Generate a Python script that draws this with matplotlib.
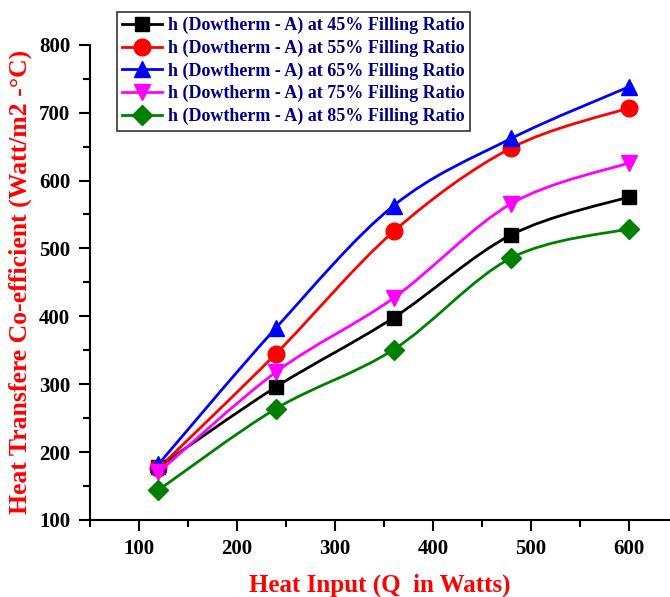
import matplotlib
matplotlib.use("Agg")
import matplotlib.pyplot as plt
from matplotlib.path import Path
from matplotlib.patches import PathPatch
from matplotlib.lines import Line2D
import numpy as np

heat_input = [120, 240, 360, 480, 600]

h_45 = [178, 296, 398, 520, 576]
h_55 = [176, 345, 525, 648, 707]
h_65 = [182, 383, 563, 662, 738]
h_75 = [170, 318, 427, 566, 626]
h_85 = [144, 264, 351, 486, 529]

labels = [
    "h (Dowtherm - A) at 45% Filling Ratio",
    "h (Dowtherm - A) at 55% Filling Ratio",
    "h (Dowtherm - A) at 65% Filling Ratio",
    "h (Dowtherm - A) at 75% Filling Ratio",
    "h (Dowtherm - A) at 85% Filling Ratio",
]
series = [h_45, h_55, h_65, h_75, h_85]
colors = ["black", "red", "blue", "magenta", "green"]
markers = ["s", "o", "^", "v", "D"]

plt.rcParams["font.family"] = ["Liberation Serif", "DejaVu Serif"]
plt.rcParams["font.weight"] = "bold"

fig = plt.figure(figsize=(6.7, 5.97), dpi=100)
ax = fig.add_axes([0.134, 0.129, 0.866, 0.796])


def smooth_path(xs, ys):
    # Catmull-Rom segments as cubic Bezier, in data coordinates
    pts = np.column_stack([xs, ys]).astype(float)
    verts = [pts[0]]
    codes = [Path.MOVETO]
    n = len(pts)
    for i in range(n - 1):
        p0 = pts[i - 1] if i > 0 else pts[i]
        p1 = pts[i]
        p2 = pts[i + 1]
        p3 = pts[i + 2] if i + 2 < n else pts[i + 1]
        c1 = p1 + (p2 - p0) / 6.0
        c2 = p2 - (p3 - p1) / 6.0
        verts += [c1, c2, p2]
        codes += [Path.CURVE4] * 3
    return Path(verts, codes)


handles = []
for ys, c, m, lab in zip(series, colors, markers, labels):
    patch = PathPatch(smooth_path(heat_input, ys), facecolor="none",
                      edgecolor=c, lw=2, zorder=2)
    ax.add_patch(patch)
    ms = 10 if m in ("s", "D") else 12
    ax.plot(heat_input, ys, linestyle="none", marker=m, color=c,
            markersize=ms, zorder=3)
    handles.append(Line2D([], [], color=c, lw=2, marker=m, markersize=ms, label=lab))

ax.set_xlim(50, 642)
ax.set_ylim(100, 800)
ax.set_xticks([100, 200, 300, 400, 500, 600])
ax.set_xticks([50, 150, 250, 350, 450, 550], minor=True)
ax.set_yticks([100, 200, 300, 400, 500, 600, 700, 800])
ax.set_yticks([150, 250, 350, 450, 550, 650, 750], minor=True)

ax.spines["top"].set_visible(False)
ax.spines["right"].set_visible(False)
for s in ("left", "bottom"):
    ax.spines[s].set_linewidth(1.5)

ax.tick_params(which="major", direction="out", length=8, width=1.5,
               labelsize=15, pad=6)
ax.tick_params(which="minor", direction="out", length=5, width=1.5)
for t in ax.get_xticklabels() + ax.get_yticklabels():
    t.set_fontweight("bold")

ax.set_xlabel("Heat Input (Q  in Watts)", color="red", fontsize=18,
              fontweight="bold", labelpad=10)
ax.set_ylabel("Heat Transfere Co-efficient (Watt/m2 -°C)", color="red",
              fontsize=18.5, fontweight="bold", labelpad=5)

leg = ax.legend(handles=handles, loc="upper left", bbox_to_anchor=(0.047, 1.07),
                frameon=True, fancybox=False, edgecolor="black",
                prop={"family": ["Liberation Serif"], "weight": "bold", "size": 13},
                handlelength=2.2, handletextpad=0.3, labelspacing=0.3,
                borderpad=0.3, borderaxespad=0)
leg.get_frame().set_linewidth(1.2)
for t in leg.get_texts():
    t.set_color("#000080")

fig.savefig("out.png", dpi=100)
